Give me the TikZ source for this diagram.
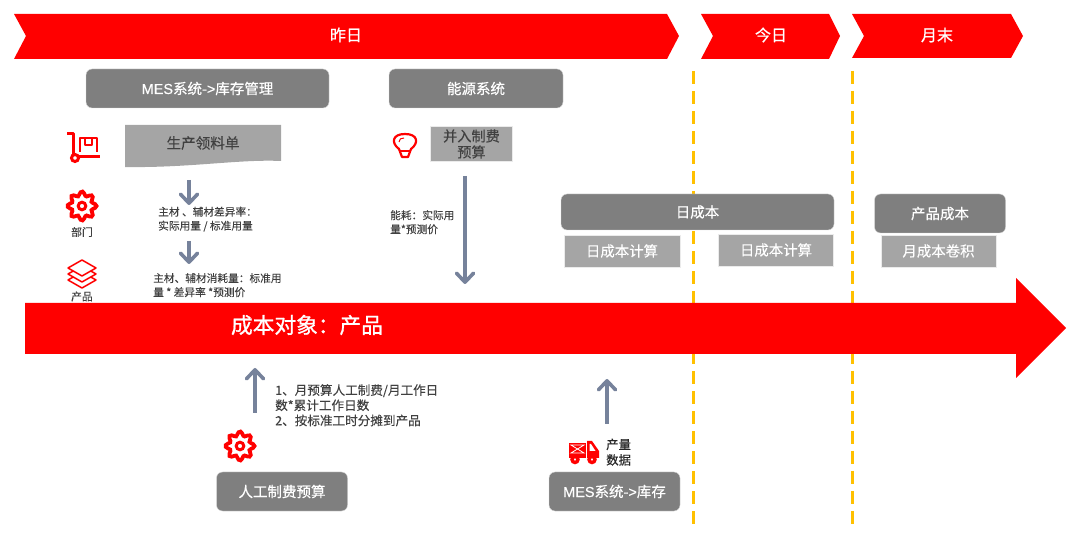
\documentclass[tikz,border=0pt]{standalone}
\usepackage{fontspec}
\setmainfont[FakeBold=0.15]{Noto Sans CJK SC}
\newfontfamily\strongfont[FakeBold=0.5]{Noto Sans CJK SC}
\newfontfamily\heavyfont[FakeBold=0.9]{Noto Sans CJK SC}
\newfontfamily\latinfont[FakeBold=0.3]{Liberation Sans}
\usetikzlibrary{arrows.meta, positioning}
\definecolor{barred}{RGB}{255,0,0}
\definecolor{darkbox}{RGB}{127,127,127}
\definecolor{lightbox}{RGB}{165,165,165}
\definecolor{arrowgrey}{RGB}{118,130,155}
\definecolor{dashgold}{RGB}{255,192,0}
\definecolor{inktext}{RGB}{64,64,64}

\begin{document}
\begin{tikzpicture}[x=1pt, y=-1pt,
  box/.style={fill=darkbox, draw=black!15, rounded corners=6pt, align=center,
              text=white, font=\strongfont\fontsize{14.5}{16}\selectfont, inner sep=0pt},
  sub/.style={fill=lightbox, draw=black!8, align=center, inner sep=0pt,
              text=white, font=\fontsize{14.4}{16}\selectfont},
  note/.style={align=left, inner sep=0pt, text=inktext, anchor=north west,
               font=\fontsize{10.7}{14}\selectfont},
  arr/.style={-{Straight Barb[length=9pt, width=17pt, round]}, line width=3.6pt,
              draw=arrowgrey},
  cut/.style={draw=dashgold, line width=3pt, dash pattern=on 13pt off 7pt},
  chev/.style={text=white, font=\strongfont\fontsize{16}{18}\selectfont, inner sep=0pt},
  ico/.style={draw=barred, line width=2pt, line join=round}
]
  \useasboundingbox (0,0) rectangle (1080,537);
  \newcommand{\gearicon}[2]{%
    \draw[barred, line width=3.8pt, fill=white, shift={(#1,#2)}, smooth cycle]
      plot[domain=0:352, samples=45] (\x:{12.4+2.1*cos(8*\x)});
    \draw[barred, line width=3pt] (#1,#2) circle (3.8pt);
  }

  % chevrons along the top
  \fill[barred] (14,14) -- (667,14) -- (679,36) -- (667,59) -- (14,59) -- (26,36) -- cycle;
  \fill[barred] (701,14) -- (829,14) -- (840,36) -- (829,59) -- (701,59) -- (713,36) -- cycle;
  \fill[barred] (852,14) -- (1011,14) -- (1023,36) -- (1011,58) -- (852,58) -- (864,36) -- cycle;
  \node[chev] (yesterday) at (346,35) {昨日};
  \node[chev] (today)     at (771,35) {今日};
  \node[chev] (monthend)  at (937,35) {月末};

  % period separators
  \coordinate (cuta) at (693,71);
  \coordinate (cutb) at (693,524);
  \coordinate (cutc) at (852,71);
  \coordinate (cutd) at (852,524);
  \draw[cut] (cuta) -- (cutb);
  \draw[cut] (cutc) -- (cutd);

  % big arrow
  \fill[barred] (25,303) -- (1016,303) -- (1016,278) -- (1066,328) -- (1016,378)
    -- (1016,354) -- (25,354) -- cycle;
  \node[text=white, font=\heavyfont\fontsize{21.7}{24}\selectfont, inner sep=0pt]
    (target) at (307,325) {成本对象：产品};

  % top row systems
  \node[box, minimum width=243pt, minimum height=39pt] (mes) at (207.5,88.5)
    {{\latinfont MES}系统{\latinfont ->}库存管理};
  \node[box, minimum width=174pt, minimum height=39pt] (energy) at (476,88.5) {能源系统};

  % requisition sheet
  \fill[lightbox] (125,125) -- (281,125) -- (281,161)
    .. controls (240,159) and (190,168) .. (125,167) -- cycle;
  \node[text=inktext, font=\fontsize{14.6}{16}\selectfont, inner sep=0pt]
    (sheet) at (203,143) {生产领料单};
  \node[sub, text=inktext, minimum width=82pt, minimum height=35pt,
        font=\fontsize{14.2}{16}\selectfont] (merge) at (471.5,144) {并入制费\\预算};

  % notes
  \node[note] (rate) at (158,206.5) {主材 、辅材差异率：\\实际用量 / 标准用量};
  \node[note] (usage) at (153,273) {主材、辅材消耗量：标准用\\量 * 差异率 *预测价};
  \node[note] (power) at (390,210) {能耗：实际用\\量*预测价};
  \node[note, font=\fontsize{12.6}{15.2}\selectfont] (labour) at (275,384)
    {1、月预算人工制费/月工作日\\数*累计工作日数\\2、按标准工时分摊到产品};
  \node[note, font=\fontsize{12.4}{15.5}\selectfont, text=black!85] (output) at (606,438.5) {产量\\数据};

  % arrows
  \coordinate (a1) at (189,180);
  \coordinate (a2) at (189,205);
  \coordinate (a3) at (189,241);
  \coordinate (a4) at (189,264);
  \coordinate (a5) at (465,176);
  \coordinate (a6) at (465,284);
  \coordinate (a7) at (255,413);
  \coordinate (a8) at (255,368);
  \coordinate (a9) at (607,424);
  \coordinate (a10) at (607,379);
  \draw[arr] (a1) -- (a2);
  \draw[arr] (a3) -- (a4);
  \draw[arr] (a5) -- (a6);
  \draw[arr] (a7) -- (a8);
  \draw[arr] (a9) -- (a10);

  % daily and month boxes
  \node[box, minimum width=273pt, minimum height=36pt] (daily) at (697.5,212) {日成本};
  \node[sub, minimum width=116pt, minimum height=32pt] (calca) at (622,251) {日成本计算};
  \node[sub, minimum width=115pt, minimum height=32pt] (calcb) at (776,250) {日成本计算};
  \node[box, minimum width=131pt, minimum height=39pt] (prodcost) at (940,213.5) {产品成本};
  \node[sub, minimum width=115pt, minimum height=32pt] (roll) at (938.5,251) {月成本卷积};

  % bottom boxes
  \node[box, minimum width=131pt, minimum height=39pt] (labourbox) at (282,491.5) {人工制费预算};
  \node[box, minimum width=131pt, minimum height=39pt] (mesb) at (614.5,491.5)
    {{\latinfont MES}系统{\latinfont ->}库存};

  % icons
  \draw[ico, line width=3pt] (67,134) -- (73,134) -- (73,157) -- (100,157);
  \draw[barred, line width=3pt, fill=white] (75,158) circle (3.5pt);
  \draw[ico] (80,152) -- (80,138) -- (97,138) -- (97,152);
  \draw[ico, line width=1.5pt] (85,138) -- (85,145) -- (92,145) -- (92,138);
  \gearicon{82}{206}
  \node[note, anchor=center, font=\fontsize{10.8}{12}\selectfont] (dept) at (82,232) {部门};
  \foreach \y in {280,274,268}
    \filldraw[draw=barred, fill=white, line width=1.5pt, line join=round]
      (82,\y-8) -- (96,\y) -- (82,\y+8) -- (68,\y) -- cycle;
  \node[note, anchor=center, font=\fontsize{10.8}{12}\selectfont] (prod) at (82,296.5) {产品};
  \gearicon{240}{446}
  % bulb
  \draw[ico, line width=2.2pt] (402,157) -- (399,149) .. controls (391,143) and (392,134) .. (405,134)
    .. controls (418,134) and (419,143) .. (411,149) -- (408,157) -- cycle;
  \draw[ico, line width=1.4pt] (399.5,151) -- (410.5,151);
  \draw[ico, line width=1pt] (399,142) .. controls (399,139) and (401,138) .. (404,138);
  % truck
  \fill[barred] (569,443) rectangle (586,458);
  \fill[barred] (587,441) -- (592,441) -- (599,451) -- (599,458) -- (587,458) -- cycle;
  \fill[white] (589.5,444) -- (591,444) -- (595.5,451) -- (589.5,451) -- cycle;
  \draw[white, line width=.8pt] (571,445) -- (584,453) -- (571,453) -- (584,445) -- cycle;
  \draw[barred, fill=white, line width=3.4pt] (575,459.5) circle (3pt);
  \draw[barred, fill=white, line width=3.4pt] (592,459.5) circle (3pt);
\end{tikzpicture}
\end{document}
